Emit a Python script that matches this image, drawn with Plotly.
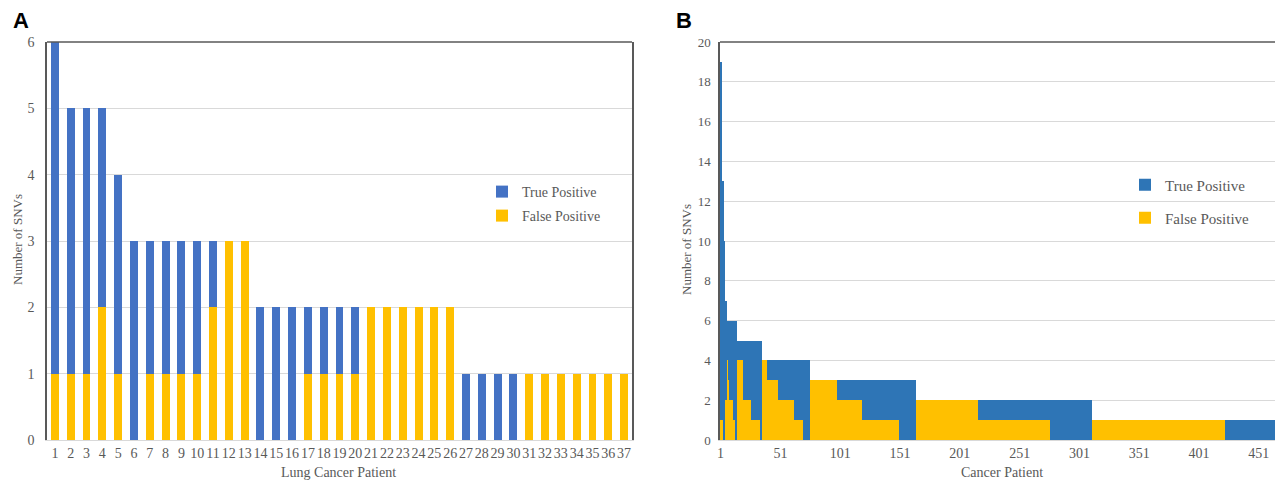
import numpy as np
import plotly.graph_objects as go

W, H = 1275, 481

# ---------------- Panel A data ----------------
patients_a = list(range(1, 38))
tp_a = [5, 4, 4, 3, 3, 3, 2, 2, 2, 2, 1, 0, 0, 2, 2, 2, 1, 1, 1, 1,
        0, 0, 0, 0, 0, 0, 1, 1, 1, 1, 0, 0, 0, 0, 0, 0, 0]
fp_a = [1, 1, 1, 2, 1, 0, 1, 1, 1, 1, 2, 3, 3, 0, 0, 0, 1, 1, 1, 1,
        2, 2, 2, 2, 2, 2, 0, 0, 0, 0, 1, 1, 1, 1, 1, 1, 1]
yticks_a = [0, 1, 2, 3, 4, 5, 6]

# ---------------- Panel B data (run-length: value, number of patients) ----------------
b_total_values = [19, 13, 10, 7, 6, 5, 4, 3, 2, 1]
b_total_counts = [1, 2, 1, 2, 8, 21, 40, 89, 147, 153]
b_fp_values = [1, 0, 2, 4, 3, 2, 1, 0, 4, 2, 1, 0, 4, 3, 2, 1, 0,
               3, 2, 1, 0, 2, 1, 0, 1, 0]
b_fp_counts = [3, 1, 2, 1, 1, 3, 2, 1, 6, 6, 8, 1, 5, 9, 13, 8, 5,
               23, 21, 31, 14, 52, 60, 35, 112, 41]
xticks_b = [1, 51, 101, 151, 201, 251, 301, 351, 401, 451]
yticks_b = [0, 2, 4, 6, 8, 10, 12, 14, 16, 18, 20]

total_b = np.repeat(b_total_values, b_total_counts)
fp_b = np.repeat(b_fp_values, b_fp_counts)
tp_b = total_b - fp_b
patients_b = np.arange(1, len(total_b) + 1)

BLUE_A = "#4472C4"
BLUE_B = "#2E75B6"
YELLOW = "#FFC000"
GRID = "#D9D9D9"
TXT = "#595959"
FRAME = "#595959"
SERIF = "Liberation Serif"

fig = go.Figure()

fig.add_trace(go.Bar(x=patients_a, y=fp_a, name="False Positive", marker_color=YELLOW,
                     marker_line_width=0, xaxis="x", yaxis="y", legend="legend2"))
fig.add_trace(go.Bar(x=patients_a, y=tp_a, name="True Positive", marker_color=BLUE_A,
                     marker_line_width=0, xaxis="x", yaxis="y", legend="legend"))
fig.add_trace(go.Bar(x=patients_b, y=fp_b, name="False Positive", marker_color=YELLOW,
                     marker_line_width=0, width=1.0, xaxis="x2", yaxis="y2", legend="legend4"))
fig.add_trace(go.Bar(x=patients_b, y=tp_b, name="True Positive", marker_color=BLUE_B,
                     marker_line_width=0, width=1.0, xaxis="x2", yaxis="y2", legend="legend3"))

ya0, ya1 = 1 - 440 / H, 1 - 42 / H
xa0, xa1 = 47 / W, 632 / W
xb0, xb1 = 720 / W, 1.0

tickfont = dict(family=SERIF, size=13, color=TXT)
tickfont_ax = dict(family=SERIF, size=14, color=TXT)

fig.update_layout(
    width=W, height=H,
    margin=dict(l=0, r=0, t=0, b=0, autoexpand=False),
    paper_bgcolor="white", plot_bgcolor="white",
    barmode="stack",
    bargap=0.5,
    showlegend=True,
    xaxis=dict(domain=[xa0, xa1], range=[0.5, 37.5], tickvals=patients_a,
               ticktext=[str(p) for p in patients_a], tickfont=tickfont_ax, tickangle=0,
               showgrid=False, showline=True, linecolor=GRID, linewidth=1,
               ticks="", zeroline=False, automargin=False),
    yaxis=dict(domain=[ya0, ya1], range=[0, 6], tickvals=yticks_a, tickfont=tickfont_ax,
               showgrid=True, gridcolor=GRID, gridwidth=1, showline=True,
               linecolor=FRAME, linewidth=1.5, mirror=True, ticks="", zeroline=False,
               automargin=False, ticklabelstandoff=8),
    xaxis2=dict(domain=[xb0, xb1], range=[0.5, 464.5], tickvals=xticks_b,
                ticktext=[str(v) for v in xticks_b], tickfont=tickfont_ax, tickangle=0,
                showgrid=False, showline=True, linecolor=GRID, linewidth=1,
                ticks="", zeroline=False, automargin=False),
    yaxis2=dict(domain=[ya0, ya1], range=[0, 20], tickvals=yticks_b, tickfont=tickfont,
                showgrid=True, gridcolor=GRID, gridwidth=1, showline=True,
                linecolor=FRAME, linewidth=1.5, ticks="", zeroline=False,
                anchor="x2", automargin=False, ticklabelstandoff=5),
)

legfont_a = dict(family=SERIF, size=14, color=TXT)
legfont_b = dict(family=SERIF, size=15, color=TXT)
fig.update_layout(
    legend=dict(x=482 / W, y=1 - 192 / H, xanchor="left", yanchor="middle",
                font=legfont_a, bgcolor="rgba(0,0,0,0)", itemwidth=30),
    legend2=dict(x=482 / W, y=1 - 216 / H, xanchor="left", yanchor="middle",
                 font=legfont_a, bgcolor="rgba(0,0,0,0)", itemwidth=30),
    legend3=dict(x=1125 / W, y=1 - 185 / H, xanchor="left", yanchor="middle",
                 font=legfont_b, bgcolor="rgba(0,0,0,0)", itemwidth=30),
    legend4=dict(x=1125 / W, y=1 - 218 / H, xanchor="left", yanchor="middle",
                 font=legfont_b, bgcolor="rgba(0,0,0,0)", itemwidth=30),
)

fig.add_shape(type="line", xref="x domain", yref="y domain", x0=0, x1=1, y0=1, y1=1,
              line=dict(color=FRAME, width=1.5))
fig.add_shape(type="line", xref="x2 domain", yref="y2 domain", x0=0, x1=1, y0=1, y1=1,
              line=dict(color=FRAME, width=1.5))

ann = [
    dict(text="Lung Cancer Patient", x=338 / W, y=1 - 472 / H, font=dict(family=SERIF, size=14, color=TXT)),
    dict(text="Cancer Patient", x=1002 / W, y=1 - 472 / H, font=dict(family=SERIF, size=14, color=TXT)),
    dict(text="Number of SNVs", x=17 / W, y=1 - 240 / H, textangle=-90, font=dict(family=SERIF, size=13, color=TXT)),
    dict(text="Number of SNVs", x=686 / W, y=1 - 250 / H, textangle=-90, font=dict(family=SERIF, size=13, color=TXT)),
    dict(text="<b>A</b>", x=21 / W, y=1 - 21 / H, font=dict(family="Liberation Sans", size=22, color="black")),
    dict(text="<b>B</b>", x=684 / W, y=1 - 21 / H, font=dict(family="Liberation Sans", size=22, color="black")),
]
for a in ann:
    fig.add_annotation(xref="paper", yref="paper", showarrow=False, xanchor="center",
                       yanchor="middle", **a)

fig.write_html("out.html", config={"displayModeBar": False},
               post_script="document.body.style.margin='0';document.body.style.overflow='hidden';")
